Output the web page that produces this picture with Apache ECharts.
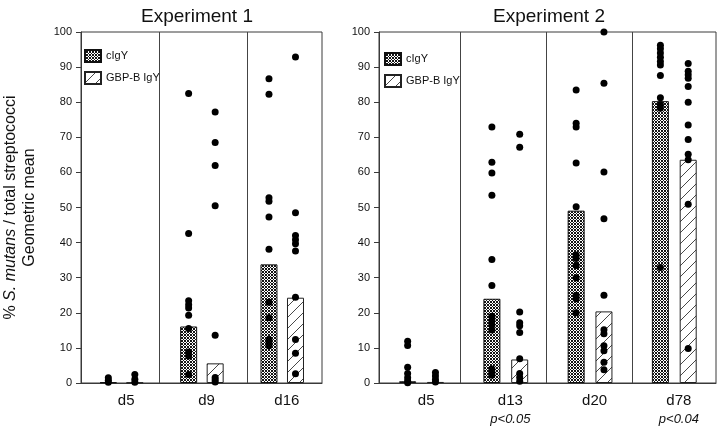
<!DOCTYPE html>
<html><head><meta charset="utf-8">
<script src="https://cdn.jsdelivr.net/npm/echarts@6/dist/echarts.min.js"></script>
<style>html,body{margin:0;padding:0;background:#fff}#c{width:724px;height:431px}</style>
</head><body><div id="c"></div>
<script>
// ---------------- data ----------------
const seriesNames = ['cIgY', 'GBP-B IgY'];
const exp1Days = ['d5', 'd9', 'd16'];
const exp1PLabels = ['', '', ''];
const exp2Days = ['d5', 'd13', 'd20', 'd78'];
const exp2PLabels = ['', 'p<0.05', '', 'p<0.04'];
const yTickMin = 0, yTickMax = 100, yTickStep = 10;

// geometric means (bar heights)
const exp1MeanC = [0.2, 16.1, 33.8];
const exp1MeanG = [0.1, 5.6, 24.3];
const exp2MeanC = [0.5, 24.0, 49.1, 80.3];
const exp2MeanG = [0.3, 6.7, 20.4, 63.6];

// individual values (dots)
const exp1PointsC = [
  [1.5, 0.8, 0.2],
  [82.5, 42.6, 23.4, 22.3, 21.4, 19.3, 15.5, 8.8, 7.7, 2.4],
  [86.7, 82.3, 52.8, 51.8, 47.3, 38.1, 23.0, 18.6, 12.4, 11.4, 10.6]
];
const exp1PointsG = [
  [2.4, 1.1, 0.2],
  [77.2, 68.5, 62.0, 50.5, 13.6, 1.6, 0.9, 0.3],
  [92.9, 48.5, 42.0, 40.8, 39.7, 37.6, 24.4, 12.4, 8.5, 2.6]
];
const exp2PointsC = [
  [11.9, 10.7, 4.5, 2.7, 1.5, 0.6, 0.1],
  [72.9, 62.9, 59.8, 53.5, 35.2, 27.8, 19.0, 17.8, 16.5, 15.1, 4.0, 3.0, 2.2],
  [83.5, 74.0, 72.9, 62.7, 50.2, 36.5, 35.5, 33.5, 30.0, 25.0, 24.0, 20.0],
  [96.2, 95.2, 94.0, 92.8, 91.6, 90.6, 87.6, 81.3, 79.3, 78.3, 32.9]
];
const exp2PointsG = [
  [3.0, 2.0, 1.0, 0.3],
  [70.9, 67.2, 20.2, 17.2, 16.3, 14.4, 6.9, 2.7, 1.6, 0.5],
  [100, 85.4, 60.1, 46.8, 25.0, 15.2, 14.0, 10.6, 9.2, 5.9, 3.8],
  [91.0, 88.8, 87.8, 86.8, 84.5, 80.0, 73.5, 69.4, 65.2, 63.6, 50.9, 9.8]
];

// ---------------- layout / style ----------------
const FONT = '"Liberation Sans", Arial, sans-serif';
const OFF_C = 0.34, OFF_G = 0.67;          // position of each bar inside its day slot
const exp1Dividers = [0.97, 2.07];
const exp2Dividers = [0.96, 1.99, 3.01];
const AX = '#3a3a3a';

function crossPattern() {
  const c = document.createElement('canvas'); c.width = 3; c.height = 3;
  const x = c.getContext('2d');
  x.fillStyle = '#fff'; x.fillRect(0, 0, 3, 3);
  x.fillStyle = '#151515';
  for (let i = 0; i < 3; i++) for (let j = 0; j < 3; j++)
    if ((i + j) % 3 === 0 || (i - j + 3) % 3 === 0) x.fillRect(i, j, 1, 1);
  return c;
}
function hatchPattern() {
  const s = 11;
  const c = document.createElement('canvas'); c.width = s; c.height = s;
  const x = c.getContext('2d');
  x.fillStyle = '#fff'; x.fillRect(0, 0, s, s);
  x.strokeStyle = '#333'; x.lineWidth = 0.9;
  x.beginPath();
  x.moveTo(-1, s + 1); x.lineTo(s + 1, -1);
  x.moveTo(-1, 1); x.lineTo(1, -1);
  x.moveTo(s - 1, s + 1); x.lineTo(s + 1, s - 1);
  x.stroke();
  return c;
}
const fillC = { image: crossPattern(), repeat: 'repeat' };
const fillG = { image: hatchPattern(), repeat: 'repeat' };

const grids = [
  { left: 80, top: 32, width: 242, height: 351 },
  { left: 379, top: 32, width: 337, height: 351 }
];
const panels = [
  { days: exp1Days, p: exp1PLabels, mc: exp1MeanC, mg: exp1MeanG, pc: exp1PointsC, pg: exp1PointsG, div: exp1Dividers },
  { days: exp2Days, p: exp2PLabels, mc: exp2MeanC, mg: exp2MeanG, pc: exp2PointsC, pg: exp2PointsG, div: exp2Dividers }
];

const xAxes = [], yAxes = [], series = [];
panels.forEach((P, gi) => {
  const n = P.days.length;
  // value axis used to place bars / dots
  xAxes.push({
    type: 'value', gridIndex: gi, min: 0, max: n,
    axisLine: { show: true, onZero: false, lineStyle: { color: AX, width: 1 } },
    axisTick: { show: false }, axisLabel: { show: false }, splitLine: { show: false }
  });
  // category axis for day labels
  xAxes.push({
    type: 'category', gridIndex: gi, data: P.days, position: 'bottom',
    axisLine: { show: false }, axisTick: { show: false }, splitLine: { show: false },
    axisLabel: {
      interval: 0, margin: 9,
      formatter: (v, i) => '{d|' + v + '}' + (P.p[i] ? '\n{p|' + P.p[i] + '}' : ''),
      rich: {
        d: { fontFamily: FONT, fontSize: 15, color: '#111', padding: [0, 0, 0, 10], lineHeight: 18 },
        p: { fontFamily: FONT, fontSize: 13, fontStyle: 'italic', color: '#111', padding: [0, 0, 0, 10], lineHeight: 18 }
      }
    }
  });
  const y = {
    type: 'value', gridIndex: gi, min: yTickMin, max: yTickMax, interval: yTickStep,
    axisLine: { show: true, lineStyle: { color: AX, width: 1 } },
    axisTick: { show: true, inside: false, length: 5, lineStyle: { color: AX } },
    axisLabel: { margin: 9, fontFamily: FONT, fontSize: 11, color: '#111' },
    splitLine: { show: false }
  };
  if (gi === 0) {
    Object.assign(y, {
      name: '% {i|S. mutans} / total streptococci\nGeometric mean',
      nameLocation: 'middle', nameRotate: 90, nameGap: 42,
      nameTextStyle: {
        fontFamily: FONT, fontSize: 16, color: '#111', lineHeight: 19, align: 'center',
        rich: { i: { fontFamily: FONT, fontSize: 16, fontStyle: 'italic', color: '#111', lineHeight: 19 } }
      }
    });
  }
  yAxes.push(y);
  const xi = gi * 2;
  const barData = (arr, off) => arr.map((v, k) => [k + off, v]);
  const dotData = (arr, off) => {
    const out = [];
    arr.forEach((vals, k) => vals.forEach(v => out.push([k + off, v])));
    return out;
  };
  series.push({
    name: seriesNames[0], type: 'bar', xAxisIndex: xi, yAxisIndex: gi,
    barWidth: 17, barGap: '-100%', data: barData(P.mc, OFF_C),
    itemStyle: { color: fillC, borderColor: '#111', borderWidth: 1 }, z: 2
  });
  series.push({
    name: seriesNames[1], type: 'bar', xAxisIndex: xi, yAxisIndex: gi,
    barWidth: 17, barGap: '-100%', data: barData(P.mg, OFF_G),
    itemStyle: { color: fillG, borderColor: '#222', borderWidth: 1 }, z: 2
  });
  series.push({
    name: 'dotsC' + gi, type: 'scatter', xAxisIndex: xi, yAxisIndex: gi,
    symbolSize: 7, data: dotData(P.pc, OFF_C), itemStyle: { color: '#000', opacity: 1 }, z: 5,
    markLine: {
      silent: true, symbol: ['none', 'none'], label: { show: false },
      lineStyle: { color: '#444', type: 'solid', width: 1 },
      data: P.div.map(d => ({ xAxis: d }))
    }
  });
  series.push({
    name: 'dotsG' + gi, type: 'scatter', xAxisIndex: xi, yAxisIndex: gi,
    symbolSize: 7, data: dotData(P.pg, OFF_G), itemStyle: { color: '#000', opacity: 1 }, z: 5
  });
});

const legendCommon = {
  data: seriesNames.map(n => ({ name: n, icon: 'rect' })),
  orient: 'vertical', itemWidth: 16, itemHeight: 12, itemGap: 8,
  textStyle: { fontFamily: FONT, fontSize: 11, color: '#111' },
  selectedMode: false, padding: 0
};

const option = {
  animation: false,
  backgroundColor: '#fff',
  title: [
    { text: 'Experiment 1', left: 192, top: 2, textAlign: 'center',
      textStyle: { fontFamily: FONT, fontSize: 19, fontWeight: 'normal', color: '#111' } },
    { text: 'Experiment 2', left: 544, top: 2, textAlign: 'center',
      textStyle: { fontFamily: FONT, fontSize: 19, fontWeight: 'normal', color: '#111' } }
  ],
  legend: [
    Object.assign({ left: 84, top: 49 }, legendCommon),
    Object.assign({ left: 384, top: 52 }, legendCommon)
  ],
  grid: grids.map(g => Object.assign({ show: true, borderColor: AX, borderWidth: 1, backgroundColor: 'transparent' }, g)),
  xAxis: xAxes,
  yAxis: yAxes,
  series: series
};
const chart = echarts.init(document.getElementById('c'), null, { renderer: 'canvas' });
chart.setOption(option);
</script></body></html>
